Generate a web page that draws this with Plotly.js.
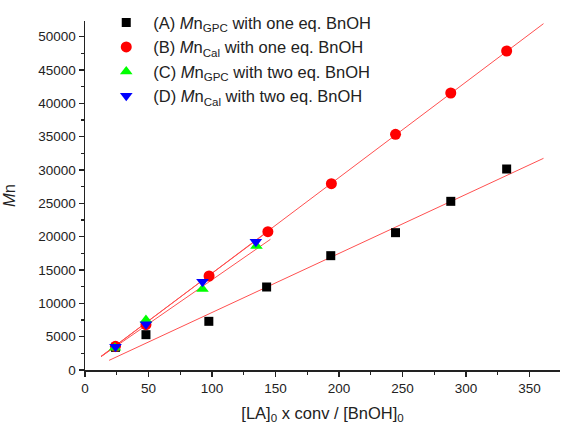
<!DOCTYPE html>
<html><head><meta charset="utf-8">
<script src="https://cdn.plot.ly/plotly-3.0.1.min.js"></script>
<style>html,body{margin:0;padding:0;background:#fff}#c{width:561px;height:426px}</style>
</head><body><div id="c"></div>
<script>
// Series A: Mn(GPC) with one eq. BnOH
const xA = [24, 48, 97.5, 143, 193.5, 244.5, 288, 332];
const yA = [3400, 5300, 7300, 12450, 17150, 20600, 25300, 30150];
// Series B: Mn(Cal) with one eq. BnOH
const xB = [24, 48, 97.7, 144, 194, 244.5, 288, 332];
const yB = [3550, 6800, 14100, 20750, 27950, 35350, 41550, 47850];
// Series C: Mn(GPC) with two eq. BnOH
const xC = [23.6, 48, 92.5, 135];
const yC = [3350, 7500, 12150, 18600];
// Series D: Mn(Cal) with two eq. BnOH
const xD = [24, 48, 92.5, 134.5];
const yD = [3500, 6850, 13250, 19250];
// Linear fit lines (endpoints)
const fitA_x = [19, 361], fitA_y = [1450, 31750];
const fitB_x = [12.6, 361], fitB_y = [2000, 51950];
const fitC_x = [12.6, 146], fitC_y = [2000, 19600];
const fitD_x = [12.6, 146], fitD_y = [2050, 21050];

const names = [
  '(A) <i>M</i>n<sub>GPC</sub> with one eq. BnOH',
  '(B) <i>M</i>n<sub>Cal</sub> with one eq. BnOH',
  '(C) <i>M</i>n<sub>GPC</sub> with two eq. BnOH',
  '(D) <i>M</i>n<sub>Cal</sub> with two eq. BnOH'
];
const lineStyle = {color: '#ff5050', width: 1};
function fit(x, y) {
  return {x: x, y: y, mode: 'lines', line: lineStyle, showlegend: false, hoverinfo: 'skip'};
}
const traces = [
  fit(fitA_x, fitA_y), fit(fitB_x, fitB_y), fit(fitC_x, fitC_y), fit(fitD_x, fitD_y),
  {x: xA, y: yA, mode: 'markers', name: names[0], marker: {symbol: 'square', size: 9, color: '#000'}},
  {x: xB, y: yB, mode: 'markers', name: names[1], marker: {symbol: 'circle', size: 11, color: '#ff0000'}},
  {x: xC, y: yC, mode: 'markers', name: names[2], marker: {symbol: 'triangle-up', size: 11, color: '#00ff00'}},
  {x: xD, y: yD, mode: 'markers', name: names[3], marker: {symbol: 'triangle-down', size: 11, color: '#0000ff'}}
];
const ff = 'Liberation Sans, Arial, sans-serif';
const font = {family: ff, size: 13.5, color: '#222'};
const layout = {
  width: 561, height: 426,
  margin: {l: 85, r: 1, t: 21, b: 56},
  paper_bgcolor: '#fff', plot_bgcolor: '#fff',
  font: font,
  showlegend: true,
  legend: {x: 0.03, y: 1.045, xanchor: 'left', yanchor: 'top', bgcolor: 'rgba(0,0,0,0)',
           font: {family: ff, size: 16.5, color: '#222'},
           itemwidth: 44, tracegroupgap: 0},
  xaxis: {
    range: [0, 374], showgrid: false, zeroline: false,
    showline: true, linecolor: '#222', linewidth: 1.5,
    ticks: 'outside', ticklen: 5, tickwidth: 1.3, tickcolor: '#222',
    dtick: 50, tick0: 0, tickformat: 'd',
    minor: {ticks: 'outside', ticklen: 3, dtick: 25, tickcolor: '#222', tickwidth: 1.2, showgrid: false},
    tickfont: font,
    title: {text: '[LA]<sub>0</sub> x conv / [BnOH]<sub>0</sub>', font: {family: ff, size: 16.5, color: '#222'}, standoff: 12}
  },
  yaxis: {
    range: [0, 52350], showgrid: false, zeroline: false,
    showline: true, linecolor: '#222', linewidth: 1.5,
    ticks: 'outside', ticklen: 5, tickwidth: 1.3, tickcolor: '#222',
    dtick: 5000, tick0: 0, tickformat: 'd',
    minor: {ticks: 'outside', ticklen: 3, dtick: 2500, tickcolor: '#222', tickwidth: 1.2, showgrid: false},
    tickfont: font,
    title: {text: '<i>M</i>n', font: {family: ff, size: 16.5, color: '#222'}, standoff: 22}
  }
};
Plotly.newPlot('c', traces, layout, {displayModeBar: false, staticPlot: true});
</script></body></html>
